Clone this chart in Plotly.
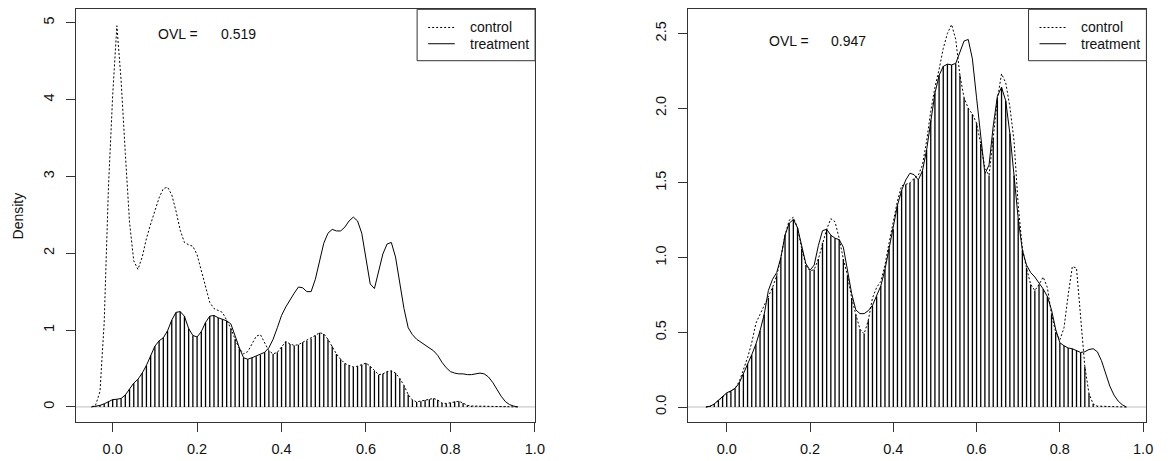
import plotly.graph_objects as go

# ---------------- data (density curves on a 0.01 grid, -0.05 .. 0.96) ----------------
x_start = -0.05
x_step = 0.01

control_1 = [0.0, 0.03, 0.2, 1.1, 2.85, 4.05, 4.96, 4.25, 3.3, 2.4,
             1.9, 1.79, 1.95, 2.19, 2.38, 2.56, 2.72, 2.84, 2.86, 2.76,
             2.55, 2.3, 2.14, 2.11, 2.09, 1.98, 1.78, 1.57, 1.36, 1.28,
             1.26, 1.23, 1.13, 1.02, 0.88, 0.76, 0.69, 0.72, 0.82, 0.92,
             0.94, 0.84, 0.73, 0.69, 0.71, 0.78, 0.85, 0.82, 0.80, 0.81,
             0.84, 0.86, 0.89, 0.93, 0.965, 0.95, 0.88, 0.79, 0.69, 0.62,
             0.565, 0.54, 0.52, 0.53, 0.55, 0.57, 0.53, 0.47, 0.42, 0.43,
             0.46, 0.47, 0.44, 0.37, 0.28, 0.16, 0.09, 0.065, 0.075, 0.09,
             0.10, 0.11, 0.09, 0.05, 0.045, 0.055, 0.07, 0.074, 0.05, 0.02,
             0.012, 0.01, 0.01, 0.01, 0.01, 0.008, 0.008, 0.006, 0.005, 0.003,
             0.001, 0.0]
treatment_1 = [0.0, 0.008, 0.02, 0.04, 0.07, 0.095, 0.10, 0.11, 0.155, 0.23,
               0.31, 0.36, 0.44, 0.54, 0.67, 0.79, 0.86, 0.90, 0.99, 1.13,
               1.23, 1.24, 1.18, 1.02, 0.93, 0.91, 0.98, 1.10, 1.18, 1.19,
               1.16, 1.14, 1.12, 1.08, 0.92, 0.77, 0.64, 0.62, 0.64, 0.66,
               0.68, 0.71, 0.77, 0.88, 1.03, 1.19, 1.30, 1.40, 1.48, 1.56,
               1.55, 1.50, 1.50, 1.66, 1.90, 2.13, 2.26, 2.31, 2.29, 2.29,
               2.34, 2.42, 2.47, 2.42, 2.26, 1.90, 1.60, 1.54, 1.75, 1.99,
               2.12, 2.14, 1.95, 1.62, 1.28, 1.03, 0.94, 0.88, 0.84, 0.80,
               0.77, 0.73, 0.67, 0.58, 0.51, 0.46, 0.44, 0.43, 0.43, 0.42,
               0.42, 0.43, 0.44, 0.43, 0.39, 0.32, 0.23, 0.14, 0.07, 0.03,
               0.01, 0.0]
control_2 = [0.0, 0.005, 0.02, 0.045, 0.07, 0.09, 0.105, 0.125, 0.17, 0.25,
             0.33, 0.43, 0.56, 0.62, 0.68, 0.73, 0.80, 0.88, 1.00, 1.15,
             1.25, 1.27, 1.20, 1.06, 0.95, 0.91, 0.92, 0.99, 1.10, 1.19,
             1.26, 1.24, 1.13, 0.99, 0.88, 0.73, 0.62, 0.52, 0.49, 0.58,
             0.73, 0.80, 0.84, 0.95, 1.10, 1.25, 1.38, 1.48, 1.49, 1.50,
             1.53, 1.55, 1.62, 1.78, 1.98, 2.14, 2.26, 2.40, 2.50, 2.56,
             2.46, 2.22, 2.07, 2.00, 1.96, 1.90, 1.76, 1.60, 1.55, 1.80,
             2.06, 2.23, 2.17, 2.01, 1.78, 1.35, 1.06, 0.93, 0.82, 0.78,
             0.82, 0.87, 0.80, 0.62, 0.50, 0.45, 0.53, 0.75, 0.94, 0.93,
             0.60, 0.27, 0.09, 0.02, 0.006, 0.005, 0.005, 0.004, 0.003, 0.002,
             0.001, 0.0]
treatment_2 = [0.0, 0.005, 0.02, 0.045, 0.07, 0.095, 0.108, 0.125, 0.16, 0.22,
               0.29, 0.35, 0.42, 0.51, 0.62, 0.78, 0.855, 0.90, 1.0, 1.15,
               1.23, 1.255, 1.20, 1.08, 0.96, 0.915, 0.95, 1.08, 1.18, 1.19,
               1.15, 1.13, 1.12, 1.07, 0.92, 0.76, 0.65, 0.625, 0.625, 0.645,
               0.68, 0.74, 0.81, 0.92, 1.06, 1.19, 1.35, 1.45, 1.52, 1.565,
               1.555, 1.52, 1.58, 1.72, 1.92, 2.10, 2.22, 2.28, 2.295, 2.29,
               2.30, 2.38, 2.45, 2.46, 2.33, 2.07, 1.80, 1.56, 1.62, 1.88,
               2.08, 2.14, 2.05, 1.83, 1.55, 1.26, 1.05, 0.95, 0.90, 0.87,
               0.83, 0.79, 0.74, 0.65, 0.52, 0.43, 0.41, 0.395, 0.39, 0.38,
               0.365, 0.37, 0.385, 0.39, 0.37, 0.31, 0.23, 0.14, 0.08, 0.04,
               0.015, 0.0]

ovl_values = ["0.519", "0.947"]
legend_labels = ["control", "treatment"]
y_ticks_1 = [0, 1, 2, 3, 4, 5]
y_ticks_2 = [0.0, 0.5, 1.0, 1.5, 2.0, 2.5]
x_ticks = [0.0, 0.2, 0.4, 0.6, 0.8, 1.0]

n = len(control_1)
assert n == len(treatment_1) == len(control_2) == len(treatment_2)
x_grid = [round(x_start + x_step * i, 2) for i in range(n)]

W, H = 1169, 461
FONT = "Liberation Sans, Arial, sans-serif"


def hatch(xs, a, b):
    hx, hy = [], []
    for xv, av, bv in zip(xs, a, b):
        m = min(av, bv)
        if m > 0.004:
            hx += [xv, xv, None]
            hy += [0, m, None]
    return hx, hy


fig = go.Figure()

panels = [
    (control_1, treatment_1, "x", "y"),
    (control_2, treatment_2, "x2", "y2"),
]
for c, t, xa, ya in panels:
    hx, hy = hatch(x_grid, c, t)
    fig.add_trace(go.Scatter(x=hx, y=hy, mode="lines", xaxis=xa, yaxis=ya,
                             line=dict(color="black", width=1.3),
                             hoverinfo="skip", showlegend=False))
    fig.add_trace(go.Scatter(x=x_grid, y=c, mode="lines", xaxis=xa, yaxis=ya,
                             name="control",
                             line=dict(color="black", width=1, dash="2px,2px"),
                             showlegend=False))
    fig.add_trace(go.Scatter(x=x_grid, y=t, mode="lines", xaxis=xa, yaxis=ya,
                             name="treatment",
                             line=dict(color="black", width=1),
                             showlegend=False))

ydom = [1 - 422.2 / H, 1 - 9.3 / H]
axis_common = dict(showgrid=False, zeroline=False, showline=True, mirror=True,
                   linecolor="#333333", linewidth=1, ticks="outside", ticklen=9,
                   tickcolor="#333333", tickwidth=1,
                   tickfont=dict(family=FONT, size=14.5, color="#111111"))

fig.update_layout(
    width=W, height=H, autosize=False,
    margin=dict(l=0, r=0, t=0, b=0, pad=0),
    paper_bgcolor="white", plot_bgcolor="white",
    xaxis=dict(domain=[76.7 / W, 539.7 / W], range=[-0.0867, 1.0005], anchor="y",
               tickvals=x_ticks, ticktext=[f"{v:.1f}" for v in x_ticks],
               ticklabelstandoff=4, **axis_common),
    yaxis=dict(domain=ydom, range=[-0.199, 5.174], anchor="x",
               tickvals=y_ticks_1, ticktext=[str(v) for v in y_ticks_1],
               tickangle=-90, ticklabelstandoff=6, **axis_common),
    xaxis2=dict(domain=[693.7 / W, 1156.3 / W], range=[-0.0936, 1.0079], anchor="y2",
                tickvals=x_ticks, ticktext=[f"{v:.1f}" for v in x_ticks],
                ticklabelstandoff=4, **axis_common),
    yaxis2=dict(domain=ydom, range=[-0.1017, 2.662], anchor="x2",
                tickvals=y_ticks_2, ticktext=[f"{v:.1f}" for v in y_ticks_2],
                tickangle=-90, ticklabelstandoff=6, **axis_common),
)

shapes = []
annotations = []
for i, (xa, ya) in enumerate([("x", "y"), ("x2", "y2")]):
    xd, yd = f"{xa} domain", f"{ya} domain"
    # gray baseline
    shapes.append(dict(type="line", xref=xd, yref=ya, x0=0, x1=1, y0=0, y1=0,
                       line=dict(color="#BEBEBE", width=1), layer="below"))
    # legend box
    shapes.append(dict(type="rect", xref=xd, yref=yd, x0=0.743, x1=1.0,
                       y0=0.8755, y1=1.0, line=dict(color="#333333", width=1),
                       fillcolor="white"))
    shapes.append(dict(type="line", xref=xd, yref=yd, x0=0.767, x1=0.825,
                       y0=0.956, y1=0.956,
                       line=dict(color="black", width=1, dash="2px,2px")))
    shapes.append(dict(type="line", xref=xd, yref=yd, x0=0.767, x1=0.825,
                       y0=0.9166, y1=0.9166, line=dict(color="black", width=1)))
    for lab, yy in zip(legend_labels, [0.956, 0.9166]):
        annotations.append(dict(text=lab, xref=xd, yref=yd, x=0.853, y=yy,
                                xanchor="left", yanchor="middle", showarrow=False,
                                font=dict(family=FONT, size=14, color="#111111")))

# OVL labels (paper coords = pixel fractions since margins are 0)
ovl_pos = [(180, 240.5, 33.8), (796, 856, 40.8)]
for (xa_px, xb_px, y_px), val in zip(ovl_pos, ovl_values):
    annotations.append(dict(text="OVL =", xref="paper", yref="paper",
                            x=xa_px / W, y=1 - y_px / H, xanchor="center",
                            yanchor="middle", showarrow=False,
                            font=dict(family=FONT, size=14, color="#111111")))
    annotations.append(dict(text=val, xref="paper", yref="paper",
                            x=xb_px / W, y=1 - y_px / H, xanchor="center",
                            yanchor="middle", showarrow=False,
                            font=dict(family=FONT, size=14, color="#111111")))

annotations.append(dict(text="Density", xref="paper", yref="paper",
                        x=18 / W, y=1 - 215.6 / H, textangle=-90,
                        xanchor="center", yanchor="middle", showarrow=False,
                        font=dict(family=FONT, size=14, color="#111111")))

fig.update_layout(shapes=shapes, annotations=annotations)
fig.write_html("out.html")
